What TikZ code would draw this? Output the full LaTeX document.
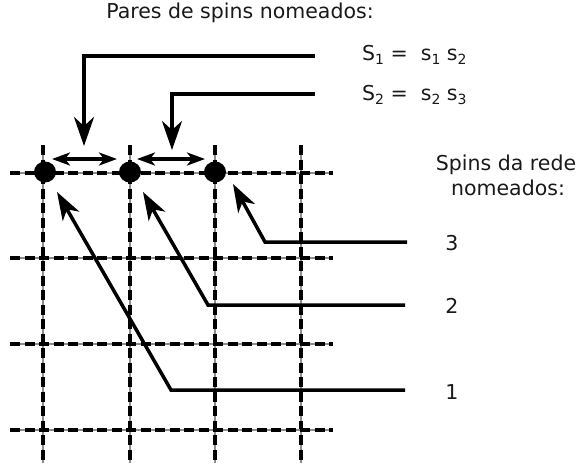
\documentclass[tikz,border=0pt]{standalone}
\usepackage{fontspec}
\setmainfont{DejaVu Sans}
\usetikzlibrary{arrows.meta,shapes.geometric}
\newcommand{\lowsub}[1]{\raisebox{-0.35ex}{\fontsize{14}{16}\selectfont #1}}
\begin{document}
\begin{tikzpicture}[x=1pt,y=-1pt,
  gridbase/.style={line width=1.1pt, black!45},
  griddash/.style={line width=3.1pt, dash pattern=on 10pt off 4.5pt},
  lead/.style={line width=3.5pt, -{Stealth[length=28pt,width=19pt,inset=8pt]}},
  downlead/.style={line width=3.5pt, -{Stealth[length=29pt,width=20pt,inset=9pt]}},
  dbl/.style={line width=3.3pt, {Stealth[length=18pt,width=13pt,inset=5pt]}-{Stealth[length=18pt,width=13pt,inset=5pt]}},
  spin/.style={ellipse, fill=black, minimum width=22pt, minimum height=21pt, inner sep=0pt},
  txt/.style={inner sep=0pt, text=black!90, font=\fontsize{20.5}{24}\selectfont},
  eq/.style={inner sep=0pt, anchor=west, text=black!90, font=\fontsize{20.5}{24}\selectfont}
]
\useasboundingbox (0,0) rectangle (577,469);
% grid
\foreach \x in {43,130,215,301} {
  \draw[gridbase] (\x,145) -- (\x,463);
  \draw[griddash] (\x,145) -- (\x,463);
}
\foreach \y in {173,258,344,430} {
  \draw[gridbase] (10,\y) -- (333,\y);
  \draw[griddash] (10,\y) -- (333,\y);
}
% spins
\node[spin] (d1) at (45,172) {};
\node[spin] (d2) at (130,172) {};
\node[spin] (d3) at (215,172) {};
% texts
\node[txt] (title) at (240,13) {Pares de spins nomeados:};
\node[eq] (S1) at (362,55) {S\lowsub{1} =\ \ s\lowsub{1} s\lowsub{2}};
\node[eq] (S2) at (362,95) {S\lowsub{2} =\ \ s\lowsub{2} s\lowsub{3}};
\node[txt] (h1) at (506,165) {Spins da rede};
\node[txt] (h2) at (508,188) {nomeados:};
\node[txt] (n3) at (452,243) {3};
\node[txt] (n2) at (452,306) {2};
\node[txt] (n1) at (452,392) {1};
% pair arrows
\coordinate (p1a) at (52,159);
\coordinate (p1b) at (117,159);
\coordinate (p2a) at (137,159);
\coordinate (p2b) at (205,159);
\draw[dbl] (p1a) -- (p1b);
\draw[dbl] (p2a) -- (p2b);
% pair leads
\coordinate (s1e) at (315,56);
\coordinate (s1c) at (84,56);
\coordinate (s1t) at (84,146);
\coordinate (s2e) at (315,94);
\coordinate (s2c) at (172,94);
\coordinate (s2t) at (172,150);
\draw[downlead] (s1e) -- (s1c) -- (s1t);
\draw[downlead] (s2e) -- (s2c) -- (s2t);
% spin leads
\coordinate (l3e) at (407,242);
\coordinate (l3c) at (265,242);
\coordinate (l3t) at (233,184);
\coordinate (l2e) at (405,305);
\coordinate (l2c) at (208,305);
\coordinate (l2t) at (143,192);
\coordinate (l1e) at (405,390);
\coordinate (l1c) at (171,390);
\coordinate (l1t) at (57,192);
\draw[lead] (l3e) -- (l3c) -- (l3t);
\draw[lead] (l2e) -- (l2c) -- (l2t);
\draw[lead] (l1e) -- (l1c) -- (l1t);
\end{tikzpicture}
\end{document}
